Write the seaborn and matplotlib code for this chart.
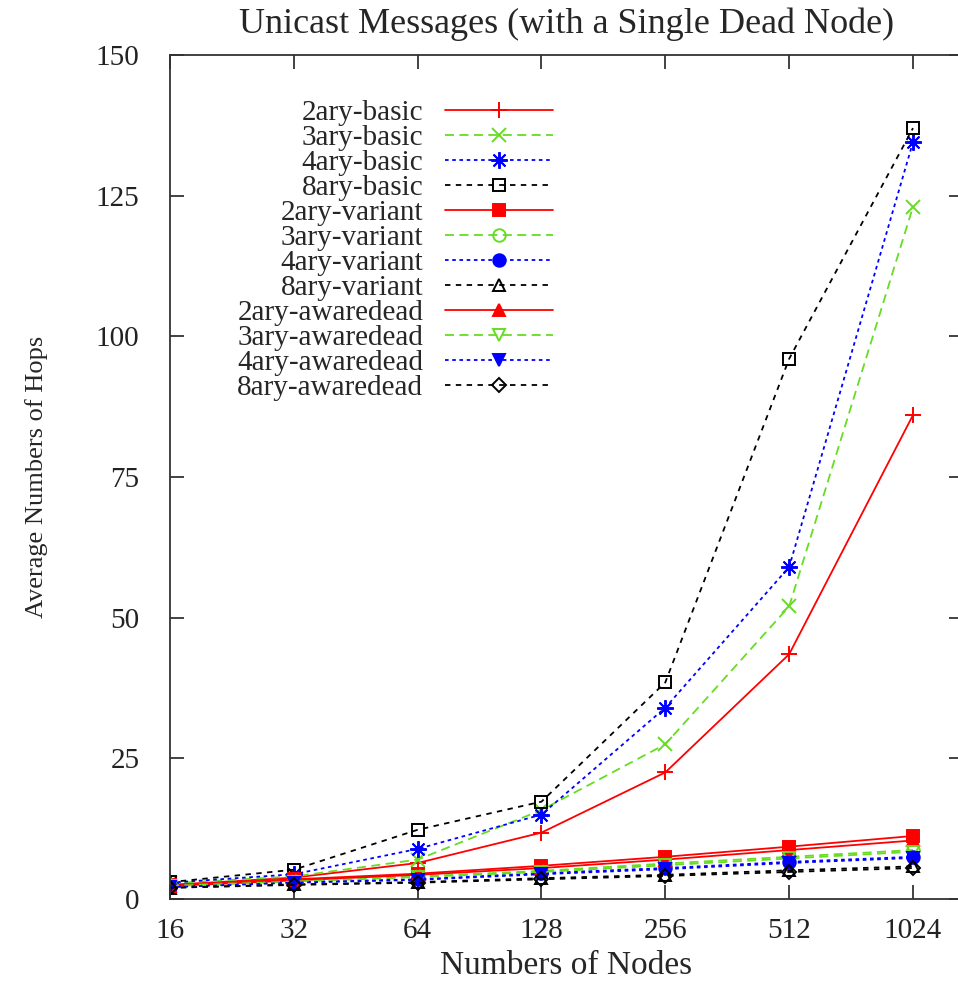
import pandas as pd
import matplotlib.pyplot as plt
import seaborn as sns

# Data
nodes = [16, 32, 64, 128, 256, 512, 1024]

basic_2ary = [2.5, 3.8, 6.4, 11.8, 22.5, 43.5, 86.0]
basic_3ary = [2.8, 4.0, 7.0, 15.8, 27.5, 52.0, 123.0]
basic_4ary = [2.9, 4.4, 8.9, 15.0, 34.0, 59.0, 134.5]
basic_8ary = [3.0, 5.2, 12.3, 17.3, 38.5, 96.0, 137.0]

variant_2ary = [2.5, 3.5, 4.5, 5.9, 7.5, 9.3, 11.2]
variant_3ary = [2.4, 3.2, 4.0, 5.0, 6.3, 7.5, 8.7]
variant_4ary = [2.2, 3.0, 3.5, 4.6, 5.5, 6.6, 7.5]
variant_8ary = [2.0, 2.6, 3.0, 3.7, 4.3, 5.1, 5.8]

awaredead_2ary = [2.3, 3.3, 4.3, 5.5, 7.0, 8.7, 10.4]
awaredead_3ary = [2.3, 3.1, 3.9, 4.8, 6.0, 7.2, 8.4]
awaredead_4ary = [2.1, 2.9, 3.4, 4.4, 5.3, 6.4, 7.3]
awaredead_8ary = [2.0, 2.5, 2.9, 3.5, 4.1, 4.8, 5.5]

labels = ['2ary-basic', '3ary-basic', '4ary-basic', '8ary-basic',
          '2ary-variant', '3ary-variant', '4ary-variant', '8ary-variant',
          '2ary-awaredead', '3ary-awaredead', '4ary-awaredead', '8ary-awaredead']
values = [basic_2ary, basic_3ary, basic_4ary, basic_8ary,
          variant_2ary, variant_3ary, variant_4ary, variant_8ary,
          awaredead_2ary, awaredead_3ary, awaredead_4ary, awaredead_8ary]

df = pd.DataFrame({'nodes': nodes * len(labels),
                   'hops': [v for vals in values for v in vals],
                   'series': [l for l in labels for _ in nodes]})

# gnuplot-like styles: colour / line type per arity, point type per series
colors = {'2': '#ff0000', '3': '#66dd22', '4': '#0000ff', '8': '#000000'}
dashes = {'2': '-', '3': (0, (5, 3)), '4': (0, (2, 2)), '8': (0, (3, 3))}
markers = ['+', 'x', (8, 2, 0), 's', 's', 'o', 'o', '^', '^', 'v', 'v', 'D']
filled = [True, True, True, False, True, False, True, False, True, False, True, False]
msizes = [12, 10, 12, 9, 9, 9, 9, 9, 9, 9, 9, 7]

sns.set_style('ticks')
plt.rcParams['font.family'] = ['Liberation Serif', 'DejaVu Serif']

fig = plt.figure(figsize=(9.58, 9.85), dpi=100)
ax = fig.add_axes([170 / 958, 86 / 985, (963 - 170) / 958, (899 - 55) / 985])

for i, name in enumerate(labels):
    c = colors[name[0]]
    sub = df[df['series'] == name]
    sns.lineplot(data=sub, x='nodes', y='hops', ax=ax, label=name,
                 color=c, linestyle=dashes[name[0]], linewidth=1.3,
                 marker=markers[i], markersize=msizes[i],
                 markerfacecolor=c if filled[i] else 'none',
                 markeredgecolor=c, markeredgewidth=1.4)

ax.set_xscale('log', base=2)
ax.set_xlim(16, 2 ** 10.404)
ax.set_ylim(0, 150)
ax.set_xticks(nodes)
ax.set_xticklabels([str(n) for n in nodes])
ax.minorticks_off()
ax.set_yticks([0, 25, 50, 75, 100, 125, 150])
ax.tick_params(direction='in', length=10, width=1.2, top=True, right=True,
               labelsize=21, colors='#222222')
ax.tick_params(axis='y', pad=22)
ax.tick_params(axis='x', pad=14)
for s in ax.spines.values():
    s.set_color('#333333')
    s.set_linewidth(1.3)

ax.set_title('Unicast Messages (with a Single Dead Node)', fontsize=26, pad=16)
ax.set_xlabel('Numbers of Nodes', fontsize=24, labelpad=4)
ax.set_ylabel('Average Numbers of Hops', fontsize=19, labelpad=34)

leg = ax.legend(loc='upper right', bbox_to_anchor=(553 / 958, (985 - 100) / 985),
                bbox_transform=fig.transFigure, frameon=False, markerfirst=False,
                fontsize=21, handlelength=3.7, handletextpad=0.75,
                labelspacing=-0.05, borderpad=0, borderaxespad=0)

fig.savefig('out.png', dpi=100)
